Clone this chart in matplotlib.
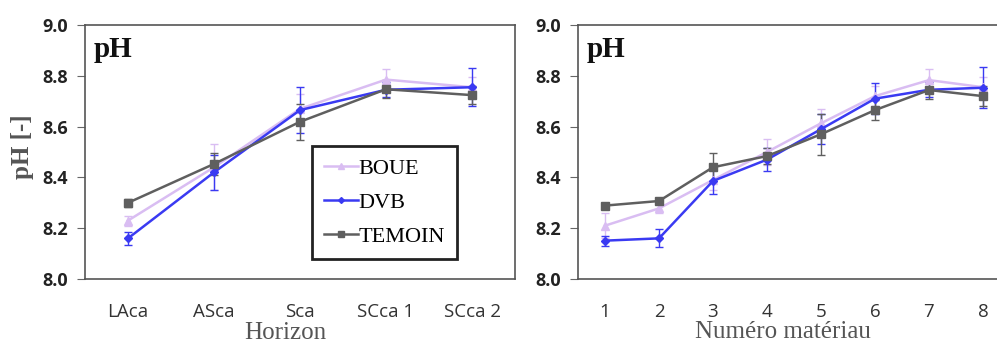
import matplotlib
matplotlib.use("Agg")
import matplotlib.pyplot as plt
from matplotlib.lines import Line2D
import numpy as np

horizons = ["LAca", "ASca", "Sca", "SCca 1", "SCca 2"]
materials = ["1", "2", "3", "4", "5", "6", "7", "8"]
series = ["BOUE", "DVB", "TEMOIN"]

# left panel (by horizon)
h_boue = [8.23, 8.44, 8.67, 8.785, 8.755]
h_boue_err = [0.02, 0.09, 0.06, 0.04, 0.04]
h_dvb = [8.16, 8.42, 8.665, 8.745, 8.755]
h_dvb_err = [0.025, 0.07, 0.09, 0.03, 0.075]
h_tem = [8.30, 8.453, 8.619, 8.747, 8.724]
h_tem_err = [0.015, 0.045, 0.07, 0.035, 0.035]

# right panel (by material number)
m_boue = [8.21, 8.278, 8.39, 8.50, 8.613, 8.72, 8.783, 8.755]
m_boue_err = [0.05, 0.02, 0.04, 0.05, 0.055, 0.04, 0.045, 0.04]
m_dvb = [8.151, 8.16, 8.386, 8.47, 8.59, 8.71, 8.745, 8.753]
m_dvb_err = [0.02, 0.035, 0.05, 0.045, 0.06, 0.06, 0.03, 0.08]
m_tem = [8.289, 8.307, 8.44, 8.484, 8.57, 8.665, 8.744, 8.72]
m_tem_err = [0.01, 0.01, 0.055, 0.03, 0.08, 0.04, 0.035, 0.04]

colors = {"BOUE": "#d9bdf2", "DVB": "#3a3af2", "TEMOIN": "#5f5f5f"}
markers = {"BOUE": "^", "DVB": "D", "TEMOIN": "s"}
msizes = {"BOUE": 6, "DVB": 4, "TEMOIN": 6}

serif = ["Liberation Serif", "DejaVu Serif"]
tickfont = "Open Sans"

fig = plt.figure(figsize=(9.97, 3.45), dpi=100)
ax1 = fig.add_axes([85/997, 1-279/345, 430/997, 254/345])
ax2 = fig.add_axes([578/997, 1-279/345, 432/997, 254/345])

def draw(ax, cats, data):
    x = np.arange(1, len(cats) + 1)
    for name, (vals, errs) in zip(series, data):
        ax.errorbar(x, vals, yerr=errs, color=colors[name], marker=markers[name],
                    markersize=msizes[name], linewidth=1.8, elinewidth=1.0,
                    capsize=3, capthick=1.0, label=name)
    ax.set_xlim(0.5, len(cats) + 0.5)
    ax.set_ylim(8.0, 9.0)
    ax.set_yticks([8.0, 8.2, 8.4, 8.6, 8.8, 9.0])
    ax.set_yticklabels(["8.0", "8.2", "8.4", "8.6", "8.8", "9.0"],
                       fontfamily=tickfont, fontweight="bold", fontsize=13, color="#222222")
    ax.set_xticks(x)
    ax.set_xticklabels(cats, fontfamily=tickfont, fontsize=13.5, color="#333333")
    ax.tick_params(axis="x", length=0, pad=17)
    ax.tick_params(axis="y", length=6, direction="out", color="#666666", pad=6)
    for s in ax.spines.values():
        s.set_color("#555555")
        s.set_linewidth(1.2)
    ax.text(0.02, 0.955, "pH", transform=ax.transAxes, fontfamily=serif,
            fontweight="bold", fontsize=21, va="top", ha="left", color="#111111")

draw(ax1, horizons, [(h_boue, h_boue_err), (h_dvb, h_dvb_err), (h_tem, h_tem_err)])
draw(ax2, materials, [(m_boue, m_boue_err), (m_dvb, m_dvb_err), (m_tem, m_tem_err)])

handles = [Line2D([], [], color=colors[n], marker=markers[n], markersize=msizes[n] - 1,
                  linewidth=1.8) for n in series]
leg = ax1.legend(handles, series, loc="upper left", bbox_to_anchor=((312-85)/430, (279-146)/254),
                 prop={"family": serif, "size": 16}, frameon=True, fancybox=False,
                 framealpha=1.0, handlelength=1.5, handletextpad=0.05, borderpad=0.55,
                 labelspacing=0.6, borderaxespad=0)
leg.get_frame().set_edgecolor("#222222")
leg.get_frame().set_linewidth(2.0)

ax1.set_ylabel("pH [-]", fontfamily=serif, fontweight="bold", fontsize=18, color="#555555", labelpad=0)
ax1.yaxis.set_label_coords(-0.118, 0.52)
fig.text(285/997, 1-333/345, "Horizon", fontfamily=serif, fontsize=18, color="#555555",
         ha="center", va="center")
fig.text(783/997, 1-332/345, "Numéro matériau", fontfamily=serif, fontsize=18, color="#555555",
         ha="center", va="center")

fig.savefig("out.png", dpi=100)
